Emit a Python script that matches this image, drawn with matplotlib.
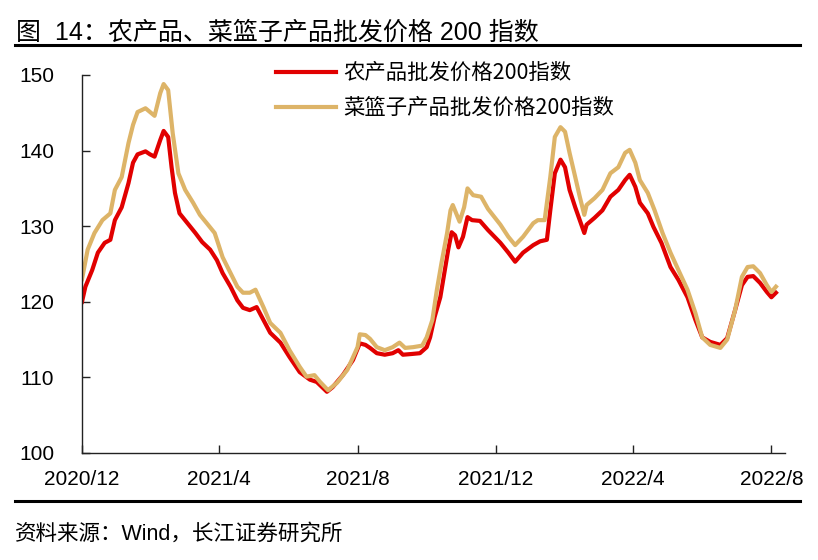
import pandas as pd
import matplotlib.pyplot as plt
import matplotlib.dates as mdates
from matplotlib.lines import Line2D

plt.rcParams['font.family'] = ['Liberation Sans', 'Noto Sans CJK SC', 'DejaVu Sans']

# Data (days since 2020-12-01)
start = pd.Timestamp('2020-12-01')

agri_days = [0, 3, 9, 14, 20, 25, 29, 35, 41, 45, 49, 56, 60, 64, 69, 72, 76, 79, 82, 86,
             93, 100, 106, 113, 119, 124, 131, 137, 142, 148, 154, 160, 166, 175, 183, 192, 201, 207, 216, 221,
             230, 239, 245, 250, 254, 260, 267, 274, 279, 283, 291, 298, 304, 307, 311, 316, 320, 323, 326, 329,
             332, 336, 340, 344, 351, 358, 369, 376, 382, 389, 398, 404, 410, 413, 417, 422, 426, 430, 435, 439,
             443, 445, 452, 459, 466, 473, 479, 483, 488, 492, 499, 504, 511, 519, 526, 534, 541, 547, 554, 563,
             569, 576, 582, 587, 592, 598, 604, 608, 612]
agri_vals = [120.0, 122.0, 124.2, 126.5, 127.8, 128.2, 130.8, 132.5, 135.7, 138.4,
             139.5, 139.9, 139.5, 139.2, 141.4, 142.6, 141.8, 137.8, 134.4, 131.7,
             130.4, 129.1, 127.9, 126.9, 125.5, 123.8, 122.0, 120.2, 119.2, 118.9,
             119.3, 117.6, 115.9, 114.6, 112.7, 110.7, 109.7, 109.4, 108.1, 108.7,
             110.3, 112.3, 114.5, 114.3, 113.9, 113.2, 113.0, 113.2, 113.6, 113.0,
             113.1, 113.2, 114.0, 115.3, 118.0, 120.6, 124.2, 126.9, 129.2, 128.8,
             127.2, 128.6, 131.2, 130.8, 130.7, 129.5, 127.8, 126.5, 125.3, 126.5,
             127.5, 128.0, 128.2, 132.1, 137.0, 138.8, 137.8, 134.8, 132.5, 130.8,
             129.1, 130.2, 131.1, 132.1, 133.9, 134.8, 136.1, 136.8, 135.2, 133.1,
             131.7, 129.9, 127.8, 124.6, 122.9, 120.6, 117.6, 115.3, 114.7, 114.3,
             115.2, 118.9, 122.2, 123.3, 123.4, 122.5, 121.3, 120.6, 121.2]

basket_days = [0, 5, 11, 18, 25, 29, 35, 41, 45, 49, 56, 60, 64, 69, 72, 76, 80, 85, 91, 98,
               104, 110, 117, 119, 124, 131, 137, 142, 148, 153, 160, 166, 175, 183, 192, 198, 205, 210, 217, 225,
               234, 243, 245, 250, 254, 260, 267, 274, 280, 285, 292, 300, 304, 309, 313, 317, 322, 325, 327, 333,
               337, 340, 345, 352, 358, 369, 376, 382, 389, 398, 402, 408, 413, 417, 422, 426, 430, 435, 439, 443,
               445, 452, 459, 466, 473, 479, 483, 488, 492, 499, 505, 512, 519, 526, 534, 541, 547, 554, 563, 569,
               576, 582, 587, 592, 598, 604, 608, 612]
basket_vals = [123.0, 126.9, 129.1, 130.8, 131.7, 134.8, 136.5, 141.0, 143.4, 145.1,
               145.6, 145.1, 144.6, 147.6, 148.8, 148.0, 142.3, 137.0, 134.8, 133.1,
               131.5, 130.4, 129.1, 128.2, 125.9, 123.8, 122.0, 121.2, 121.2, 121.6,
               119.3, 117.2, 115.9, 113.6, 111.4, 110.1, 110.3, 109.4, 108.3, 109.3,
               111.0, 114.0, 115.7, 115.6, 115.1, 114.0, 113.6, 114.0, 114.6, 113.9,
               114.0, 114.2, 115.3, 117.6, 121.6, 125.1, 129.1, 132.1, 132.8, 130.6,
               132.5, 135.0, 134.1, 133.9, 132.3, 130.2, 128.6, 127.5, 128.6, 130.4,
               130.8, 130.8, 136.5, 141.8, 143.1, 142.5, 139.7, 136.5, 133.9, 131.5,
               132.8, 133.7, 134.8, 137.0, 137.8, 139.7, 140.1, 138.4, 136.1, 134.4,
               132.1, 129.1, 126.5, 124.2, 121.6, 118.5, 115.3, 114.3, 113.9, 115.0,
               118.9, 123.3, 124.6, 124.7, 123.8, 122.2, 121.3, 122.0]

agri_dates = start + pd.to_timedelta(agri_days, unit='D')
basket_dates = start + pd.to_timedelta(basket_days, unit='D')

title = '图  14：农产品、菜篮子产品批发价格 200 指数'
source = '资料来源：Wind，长江证券研究所'
label_agri = '农产品批发价格200指数'
label_basket = '菜篮子产品批发价格200指数'

fig = plt.figure(figsize=(8.18, 5.6), dpi=100)
ax = fig.add_axes([82 / 818, 1 - 453 / 560, 703 / 818, 378 / 560])

ax.plot(agri_dates, agri_vals, color='#E10000', linewidth=3, label=label_agri)
ax.plot(basket_dates, basket_vals, color='#DDB468', linewidth=3, label=label_basket)

ax.set_ylim(100, 150)
ax.set_yticks([100, 110, 120, 130, 140, 150])
ax.set_xlim(start, start + pd.Timedelta(days=620))
ax.xaxis.set_major_locator(mdates.MonthLocator(bymonth=[4, 8, 12]))
ax.xaxis.set_major_formatter(plt.FuncFormatter(
    lambda v, pos: f'{mdates.num2date(v).year}/{mdates.num2date(v).month}'))

for s in ['top', 'right']:
    ax.spines[s].set_visible(False)
for s in ['left', 'bottom']:
    ax.spines[s].set_linewidth(1)
    ax.spines[s].set_color('#222222')
ax.tick_params(direction='in', length=6, width=1, color='#222222', labelsize=15)
ax.tick_params(axis='y', pad=20)
ax.tick_params(axis='x', pad=12)

leg = ax.legend(loc='upper left', bbox_to_anchor=(0.261, 1.062), frameon=False,
                prop={'family': ['Noto Sans CJK SC'], 'size': 15.4},
                handlelength=2.8, handletextpad=0.35, labelspacing=0.6, borderpad=0)
for line in leg.get_lines():
    line.set_linewidth(3)

# Title, source and the rules around the chart
fig.text(16 / 818, 1 - 40 / 560, title, fontsize=18, ha='left', va='baseline')
fig.add_artist(Line2D([15 / 818, 800 / 818], [1 - 45 / 560] * 2, color='black', linewidth=2.2,
                      transform=fig.transFigure))
fig.add_artist(Line2D([15 / 818, 800 / 818], [1 - 501 / 560] * 2, color='black', linewidth=2.2,
                      transform=fig.transFigure))
fig.text(15 / 818, 1 - 540 / 560, source, fontsize=15.5, ha='left', va='baseline')

fig.savefig('out.png', dpi=100)
